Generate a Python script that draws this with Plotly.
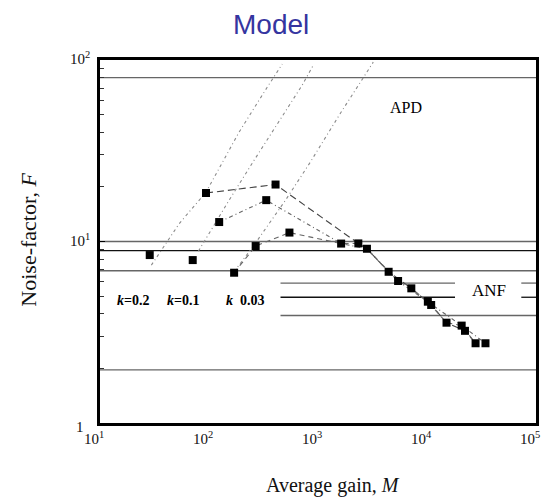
import math
import plotly.graph_objects as go

# ---- data ----
# measured gain / noise-factor points
M_meas = [28.6, 70.9, 93.9, 124, 170, 268, 335, 408, 547, 1630, 2344, 2812,
          4446, 5430, 7180, 10180, 10920, 15100, 20800, 22300, 27900, 34400]
F_meas = [8.42, 7.90, 18.5, 12.8, 6.73, 9.44, 16.9, 20.6, 11.2, 9.74, 9.76, 9.12,
          6.81, 6.06, 5.52, 4.66, 4.47, 3.57, 3.44, 3.22, 2.75, 2.75]

# connecting curves through the measured points
M_k02 = [93.9, 408, 2344, 2812, 4446, 7180, 10920, 15100, 22300, 27900]
F_k02 = [18.5, 20.6, 9.76, 9.12, 6.81, 5.52, 4.47, 3.57, 3.22, 2.75]
M_k01 = [124, 335, 1630, 2812, 5430, 10180, 20800, 34400]
F_k01 = [12.8, 16.9, 9.74, 9.12, 6.06, 4.66, 3.44, 2.75]
M_k003 = [170, 268, 547, 1630, 2344, 2812, 4446, 5430, 7180, 10180, 15100, 20800, 27900]
F_k003 = [6.73, 9.44, 11.2, 9.74, 9.76, 9.12, 6.81, 6.06, 5.52, 4.66, 3.57, 3.44, 2.75]

# APD excess-noise curves
M_apd02 = [29.6, 53.6, 93.9, 189, 342, 470]
F_apd02 = [7.41, 12.6, 18.7, 40.1, 70.8, 95]
M_apd01 = [80, 153, 259, 713, 900]
F_apd01 = [8.85, 16.9, 28.0, 72.4, 93]
M_apd003 = [170, 259, 504, 851, 1596, 3214]
F_apd003 = [6.81, 9.55, 16.9, 27.4, 50.6, 97.3]

# horizontal reference levels
F_full_grey = [80, 10, 6.9, 1.96]
F_full_dark = [8.9]
F_short = [5.9, 4.93]
F_long = [3.91]
M_short_segments = [453, 18070, None, 73300, 100000]
M_long_segment = [453, 100000]
M_span = [10, 100000]

k_labels = ["<b><i>k</i>=0.2</b>", "<b><i>k</i>=0.1</b>", "<b><i>k</i>  0.03</b>"]
k_label_M = [20.1, 57.4, 217]
k_label_F = 4.76

x_tick_vals = [10, 100, 1000, 10000, 100000]
x_tick_text = ["10<sup>1</sup>", "10<sup>2</sup>", "10<sup>3</sup>", "10<sup>4</sup>", "10<sup>5</sup>"]
y_tick_vals = [1, 10, 100]
y_tick_text = ["1", "10<sup>1</sup>", "10<sup>2</sup>"]

SERIF = "Liberation Serif"
lg = math.log10  # annotation positions on log axes are given in decades

fig = go.Figure()

# horizontal lines
for f in F_full_grey:
    fig.add_trace(go.Scatter(x=M_span, y=[f, f], mode="lines",
                             line=dict(color="#666", width=1.3), hoverinfo="skip"))
for f in F_full_dark:
    fig.add_trace(go.Scatter(x=M_span, y=[f, f], mode="lines",
                             line=dict(color="#111", width=1.3), hoverinfo="skip"))
for f, c in zip(F_short, ["#666", "#111"]):
    fig.add_trace(go.Scatter(x=M_short_segments, y=[f, f, None, f, f], mode="lines",
                             line=dict(color=c, width=1.3), hoverinfo="skip",
                             connectgaps=False))
for f in F_long:
    fig.add_trace(go.Scatter(x=M_long_segment, y=[f, f], mode="lines",
                             line=dict(color="#666", width=1.3), hoverinfo="skip"))

# APD theoretical curves
for mx, fy in [(M_apd02, F_apd02), (M_apd01, F_apd01), (M_apd003, F_apd003)]:
    fig.add_trace(go.Scatter(x=mx, y=fy, mode="lines",
                             line=dict(color="#8a8a8a", width=1.1, dash="3px,3px,1px,3px"),
                             hoverinfo="skip"))

# measured curves
fig.add_trace(go.Scatter(x=M_k02, y=F_k02, mode="lines",
                         line=dict(color="#444", width=1.1, dash="7px,4px")))
fig.add_trace(go.Scatter(x=M_k01, y=F_k01, mode="lines",
                         line=dict(color="#666", width=1.1, dash="4px,3px,1px,3px")))
fig.add_trace(go.Scatter(x=M_k003, y=F_k003, mode="lines",
                         line=dict(color="#666", width=1.1, dash="5px,4px")))

fig.add_trace(go.Scatter(x=M_meas, y=F_meas, mode="markers",
                         marker=dict(symbol="square", size=8, color="black")))

annotations = []
for v, t in zip(x_tick_vals, x_tick_text):
    annotations.append(dict(x=lg(v), y=0, xref="x", yref="paper", text=t, showarrow=False,
                            xanchor="center", yanchor="top", xshift=-6, yshift=-4,
                            font=dict(family=SERIF, size=15, color="#111")))
for v, t in zip(y_tick_vals, y_tick_text):
    annotations.append(dict(x=0, y=lg(v), xref="paper", yref="y", text=t, showarrow=False,
                            xanchor="center", yanchor="middle", xshift=-20,
                            yshift=-4 if v == 1 else 2,
                            font=dict(family=SERIF, size=15, color="#111")))
for mx, t in zip(k_label_M, k_labels):
    annotations.append(dict(x=lg(mx), y=lg(k_label_F), xref="x", yref="y", text=t,
                            showarrow=False, font=dict(family=SERIF, size=14, color="black")))
annotations += [
    dict(x=lg(6430), y=lg(55), xref="x", yref="y", text="APD", showarrow=False,
         font=dict(family=SERIF, size=16, color="black")),
    dict(x=lg(37200), y=lg(5.4), xref="x", yref="y", text="ANF", showarrow=False,
         font=dict(family=SERIF, size=17, color="black")),
    dict(x=0.535, y=-0.171, xref="paper", yref="paper", text="Average gain, <i>M</i>",
         showarrow=False, xanchor="center", yanchor="middle",
         font=dict(family=SERIF, size=20, color="#111")),
    dict(x=-0.166, y=0.504, xref="paper", yref="paper", text="Noise-factor, <i>F</i>",
         showarrow=False, textangle=-90, xanchor="center", yanchor="middle",
         font=dict(family=SERIF, size=22, color="#111")),
    dict(x=0.392, y=1.099, xref="paper", yref="paper", text="Model",
         showarrow=False, xanchor="center", yanchor="middle",
         font=dict(family="Liberation Sans", size=28, color="#3535a0")),
]

fig.update_layout(
    width=544, height=498,
    margin=dict(l=100, r=5, t=60, b=75),
    paper_bgcolor="white", plot_bgcolor="white",
    showlegend=False,
    annotations=annotations,
    xaxis=dict(type="log", range=[1, 5], showgrid=False, zeroline=False,
               showticklabels=False, ticks="", showline=True, mirror=True,
               linecolor="black", linewidth=3),
    yaxis=dict(type="log", range=[0, 2], showgrid=False, zeroline=False,
               showticklabels=False, tickvals=y_tick_vals, ticks="inside", ticklen=5,
               tickcolor="black", showline=True, mirror=True,
               linecolor="black", linewidth=3,
               minor=dict(ticks="inside", ticklen=4, tickcolor="#333", dtick="D1",
                          showgrid=False)),
)

fig.write_html("out.html")
